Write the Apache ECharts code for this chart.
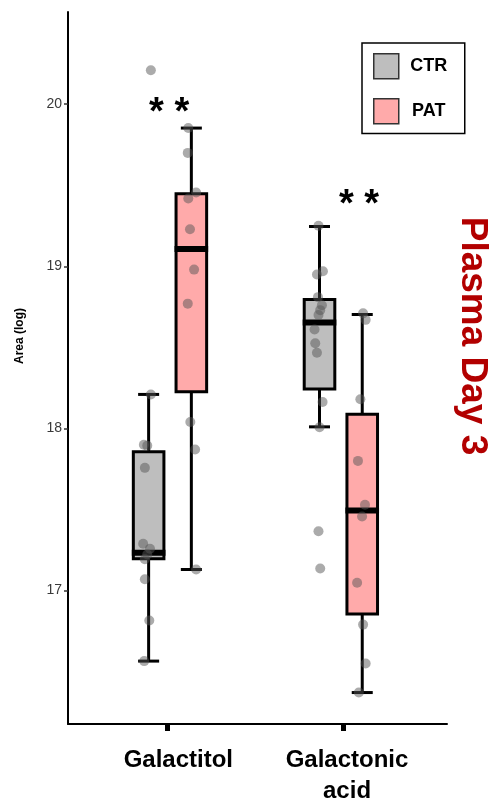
<!DOCTYPE html>
<html>
<head>
<meta charset="utf-8">
<script src="https://cdn.jsdelivr.net/npm/echarts@6/dist/echarts.min.js"></script>
<style>
html,body{margin:0;padding:0;background:#ffffff;}
#chart{width:492px;height:807px;}
</style>
</head>
<body>
<div id="chart"></div>
<script>
// ---------------- data ----------------
const categories = ['Galactitol', 'Galactonic\nacid'];
const groups = ['CTR', 'PAT'];
const yTicks = [17, 18, 19, 20];
const catX = [1, 2];
const tickX = [0.9865, 2.014];
const labelX = [1.049, 2.036];

// box statistics per category: [lower whisker, Q1, median, Q3, upper whisker]
const ctrBox = [
  [16.565, 17.197, 17.234, 17.857, 18.21],
  [18.01, 18.243, 18.654, 18.795, 19.246]
];
const patBox = [
  [17.13, 18.226, 19.107, 19.448, 19.853],
  [16.371, 16.856, 17.494, 18.087, 18.703]
];

// individual observations per category
const ctrPoints = [
  [20.21, 18.21, 17.90, 17.894, 17.757, 17.289, 17.258, 17.223, 17.193, 17.07, 16.815, 16.565],
  [19.25, 18.97, 18.95, 18.81, 18.76, 18.73, 18.70, 18.61, 18.526, 18.467, 18.163, 18.008, 17.366, 17.136]
];
const patPoints = [
  [19.853, 19.70, 19.456, 19.419, 19.229, 18.98, 18.77, 18.04, 17.87, 17.13],
  [18.71, 18.67, 18.18, 17.80, 17.53, 17.457, 17.048, 16.79, 16.55, 16.371]
];
// horizontal jitter of each observation (x-axis units)
const ctrJitter = [
  [0.013, 0.013, -0.028, -0.008, -0.022, -0.032, 0.008, -0.008, -0.022, -0.022, 0.004, -0.026],
  [-0.006, 0.020, -0.015, -0.009, 0.014, 0.004, -0.006, -0.029, -0.025, -0.015, 0.018, 0.000, -0.006, 0.004]
];
const patJitter = [
  [-0.018, -0.021, 0.028, -0.018, -0.008, 0.016, -0.021, -0.006, 0.022, 0.028],
  [0.005, 0.020, -0.011, -0.025, 0.016, -0.001, -0.030, 0.005, 0.020, -0.020]
];

// significance annotations
const sigText = ['* *', '* *'];
const sigX = [0.995, 2.106];
const sigY = [19.945, 19.375];

// ---------------- styling ----------------
const FF = "'Liberation Sans', Arial, Helvetica, sans-serif";
const DODGE = 0.125;
const BOX_W = 0.179;
const CAP_W = 0.123;
const fills = { CTR: '#bebebe', PAT: '#ffaaaa' };

function boxRender(offset, fill) {
  return function (params, api) {
    const cx = api.value(0) + offset;
    const lo = api.coord([cx, api.value(1)]);
    const q1 = api.coord([cx, api.value(2)]);
    const md = api.coord([cx, api.value(3)]);
    const q3 = api.coord([cx, api.value(4)]);
    const hi = api.coord([cx, api.value(5)]);
    const bw = api.size([BOX_W, 0])[0];
    const cw = api.size([CAP_W, 0])[0];
    const x = lo[0];
    const ls = { stroke: '#000', lineWidth: 3 };
    return {
      type: 'group',
      children: [
        { type: 'line', shape: { x1: x, y1: hi[1], x2: x, y2: q3[1] }, style: ls },
        { type: 'line', shape: { x1: x, y1: q1[1], x2: x, y2: lo[1] }, style: ls },
        { type: 'line', shape: { x1: x - cw / 2, y1: hi[1], x2: x + cw / 2, y2: hi[1] }, style: ls },
        { type: 'line', shape: { x1: x - cw / 2, y1: lo[1], x2: x + cw / 2, y2: lo[1] }, style: ls },
        { type: 'rect', shape: { x: x - bw / 2, y: q3[1], width: bw, height: q1[1] - q3[1] },
          style: { fill: fill, stroke: '#000', lineWidth: 3 } },
        { type: 'line', shape: { x1: x - bw / 2 - 1.5, y1: md[1], x2: x + bw / 2 + 1.5, y2: md[1] },
          style: { stroke: '#000', lineWidth: 6 } }
      ]
    };
  };
}

function boxData(stats) {
  return stats.map((s, i) => [catX[i]].concat(s));
}
function pointData(points, jitter, offset) {
  const out = [];
  points.forEach((arr, i) => {
    arr.forEach((v, j) => out.push([catX[i] + offset + jitter[i][j], v]));
  });
  return out;
}
function nearestIndex(list, v) {
  let best = 0;
  list.forEach((t, i) => { if (Math.abs(t - v) < Math.abs(list[best] - v)) best = i; });
  return best;
}

const chart = echarts.init(document.getElementById('chart'), null, { renderer: 'canvas' });
chart.setOption({
  animation: false,
  backgroundColor: '#ffffff',
  grid: { left: 68, right: 45, top: 12, bottom: 77, containLabel: false },
  xAxis: {
    type: 'value',
    min: 0.4032,
    max: 2.621,
    axisLine: { show: true, onZero: false, lineStyle: { color: '#000', width: 2 } },
    axisTick: { show: true, customValues: tickX, length: 7, lineStyle: { color: '#000', width: 5 } },
    axisLabel: {
      show: true,
      customValues: labelX,
      formatter: (v) => categories[nearestIndex(labelX, v)],
      margin: 21,
      color: '#000',
      fontSize: 24,
      fontWeight: 'bold',
      fontFamily: FF,
      lineHeight: 31
    },
    splitLine: { show: false }
  },
  yAxis: {
    type: 'value',
    min: 16.177,
    max: 20.569,
    axisLine: { show: true, onZero: false, lineStyle: { color: '#000', width: 2 } },
    axisTick: { show: true, customValues: yTicks, length: 4, lineStyle: { color: '#333', width: 1.5 } },
    axisLabel: {
      show: true,
      customValues: yTicks,
      formatter: (v) => String(yTicks[nearestIndex(yTicks, v)]),
      margin: 6,
      color: '#3a3a3a',
      fontSize: 14,
      fontFamily: FF
    },
    splitLine: { show: false }
  },
  legend: {
    data: [
      { name: 'CTR', itemStyle: { color: fills.CTR, borderColor: '#333', borderWidth: 1.5 } },
      { name: 'PAT', itemStyle: { color: fills.PAT, borderColor: '#333', borderWidth: 1.5 } }
    ],
    icon: 'rect',
    orient: 'vertical',
    left: 362,
    top: 43,
    itemWidth: 25,
    itemHeight: 25,
    itemGap: 18.6,
    padding: [10, 11, 9, 11],
    borderColor: '#000',
    borderWidth: 1.5,
    selectedMode: false,
    formatter: (n) => '{c|' + n + '}',
    textStyle: {
      rich: { c: { width: 50, lineHeight: 20, align: 'center', fontSize: 18, fontWeight: 'bold', color: '#000', fontFamily: FF } }
    }
  },
  graphic: [
    { type: 'text', x: 20, y: 336, rotation: Math.PI / 2,
      style: { text: 'Area (log)', fontSize: 12, fontWeight: 'bold', fontFamily: FF, fill: '#000', align: 'center', verticalAlign: 'middle' } },
    { type: 'text', x: 472, y: 336, rotation: -Math.PI / 2,
      style: { text: 'Plasma Day 3', fontSize: 37, fontWeight: 'bold', fontFamily: FF, fill: '#b20000', align: 'center', verticalAlign: 'middle' } }
  ],
  series: [
    { name: 'CTR', type: 'custom', renderItem: boxRender(-DODGE, fills.CTR), data: boxData(ctrBox),
      encode: { x: 0, y: [1, 2, 3, 4, 5] }, z: 2, silent: true },
    { name: 'PAT', type: 'custom', renderItem: boxRender(DODGE, fills.PAT), data: boxData(patBox),
      encode: { x: 0, y: [1, 2, 3, 4, 5] }, z: 2, silent: true },
    { name: 'CTR points', type: 'scatter', data: pointData(ctrPoints, ctrJitter, -DODGE), symbolSize: 10,
      itemStyle: { color: 'rgba(85,85,85,0.62)' }, z: 3, silent: true },
    { name: 'PAT points', type: 'scatter', data: pointData(patPoints, patJitter, DODGE), symbolSize: 10,
      itemStyle: { color: 'rgba(85,85,85,0.62)' }, z: 3, silent: true },
    { name: 'significance', type: 'custom', z: 4, silent: true,
      data: sigX.map((x, i) => [x, sigY[i]]),
      encode: { x: 0, y: 1 },
      renderItem: function (params, api) {
        const p = api.coord([api.value(0), api.value(1)]);
        return { type: 'text', x: p[0], y: p[1],
          style: { text: sigText[params.dataIndex], fontSize: 38, fontWeight: 'bold', fontFamily: FF, fill: '#000', align: 'center', verticalAlign: 'middle' } };
      }
    }
  ]
});
</script>
</body>
</html>
